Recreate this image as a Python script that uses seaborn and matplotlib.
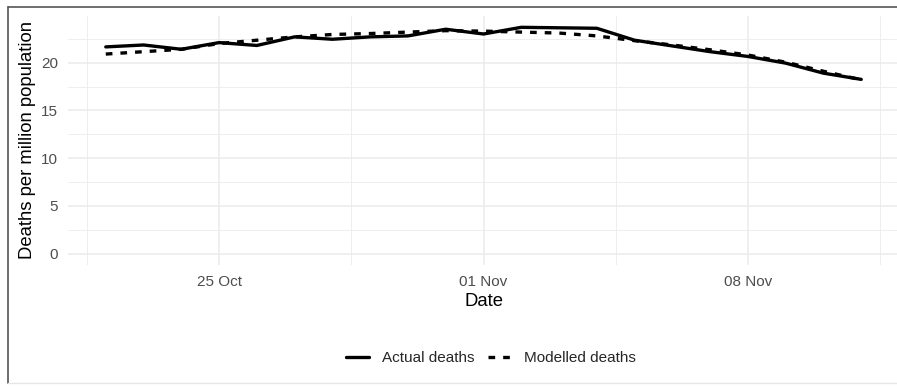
import numpy as np
import pandas as pd
import matplotlib
matplotlib.use("Agg")
import matplotlib.pyplot as plt
import matplotlib.dates as mdates
from matplotlib.lines import Line2D
import seaborn as sns

# ---- data ----
dates = pd.date_range("2020-10-22", "2020-11-11", freq="D")
actual_deaths = [21.65, 21.85, 21.4, 22.1, 21.8, 22.7, 22.45, 22.7, 22.8, 23.5, 23.0,
                 23.7, 23.65, 23.6, 22.35, 21.75, 21.15, 20.65, 19.95, 18.9, 18.25]
modelled_deaths = [20.9, 21.15, 21.4, 22.0, 22.35, 22.7, 22.95, 23.05, 23.2, 23.35, 23.3,
                   23.2, 23.1, 22.8, 22.3, 21.85, 21.35, 20.8, 20.05, 19.1, 18.2]
series_names = ["Actual deaths", "Modelled deaths"]
x_ticks = ["2020-10-25", "2020-11-01", "2020-11-08"]
y_ticks = [0, 5, 10, 15, 20]

df = pd.concat([
    pd.DataFrame({"Date": dates, "value": actual_deaths, "series": series_names[0]}),
    pd.DataFrame({"Date": dates, "value": modelled_deaths, "series": series_names[1]}),
])

sns.set_style("white")
plt.rcParams["font.family"] = ["Liberation Sans", "DejaVu Sans"]

W, H = 897, 387
fig = plt.figure(figsize=(W / 100, H / 100), dpi=100)
left, right, top, bottom = 68, 899, 16, 265
ax = fig.add_axes([left / W, 1 - bottom / H, (right - left) / W, (bottom - top) / H])

sns.lineplot(data=df, x="Date", y="value", style="series", color="black",
             dashes={series_names[0]: "", series_names[1]: (2.0, 2.4)},
             linewidth=2.4, ax=ax, legend=False)

# limits like ggplot default expansion
ymax = max(max(actual_deaths), max(modelled_deaths))
pad = 0.05 * ymax
ax.set_ylim(-pad, ymax + pad)
ax.set_xlim(dates[0] - pd.Timedelta(days=1), dates[-1] + pd.Timedelta(days=1))

ax.set_xticks(pd.to_datetime(x_ticks))
ax.xaxis.set_major_formatter(mdates.DateFormatter("%d %b"))
minor_x = pd.to_datetime(x_ticks) - pd.Timedelta(hours=84)
minor_x = list(minor_x) + [pd.to_datetime(x_ticks[-1]) + pd.Timedelta(hours=84)]
ax.set_xticks(minor_x, minor=True)
ax.set_yticks(y_ticks)
ax.set_yticks([2.5, 7.5, 12.5, 17.5, 22.5], minor=True)

ax.grid(which="major", color="#EBEBEB", linewidth=1.1)
ax.grid(which="minor", color="#EBEBEB", linewidth=0.6)
ax.set_axisbelow(True)
for s in ax.spines.values():
    s.set_visible(False)

ax.tick_params(axis="both", which="both", length=0, labelsize=11, labelcolor="#4D4D4D")
ax.tick_params(axis="x", pad=7.5)
ax.tick_params(axis="y", pad=7)

ax.set_xlabel("Date", fontsize=13.3, color="black")
ax.set_ylabel("Deaths per million population", fontsize=13.3, color="black")
ax.xaxis.label.set_va("center")
ax.xaxis.set_label_coords(0.5, -0.147)
ax.yaxis.label.set_va("center")
ax.yaxis.set_label_coords(-0.0493, 0.5)

handles = [Line2D([], [], color="black", linewidth=2.4, linestyle="-"),
           Line2D([], [], color="black", linewidth=2.4, linestyle=(0, (2.0, 2.4)))]
fig.legend(handles, series_names, loc="center", bbox_to_anchor=(491 / W, 1 - 358 / H),
           ncol=2, frameon=False, fontsize=11, handlelength=1.55, handletextpad=0.85,
           columnspacing=0.85)

# screenshot frame
fig.add_artist(Line2D([7.5 / W, 1], [1 - 7 / H, 1 - 7 / H], transform=fig.transFigure,
                      color="#555555", linewidth=1.2))
fig.add_artist(Line2D([7.5 / W, 7.5 / W], [1 - 7 / H, 1 - 383 / H], transform=fig.transFigure,
                      color="#555555", linewidth=1.2))
fig.add_artist(Line2D([7.5 / W, 1], [1 - 383 / H, 1 - 383 / H], transform=fig.transFigure,
                      color="#E6E6E6", linewidth=1.0))

fig.savefig("out.png", dpi=100)
